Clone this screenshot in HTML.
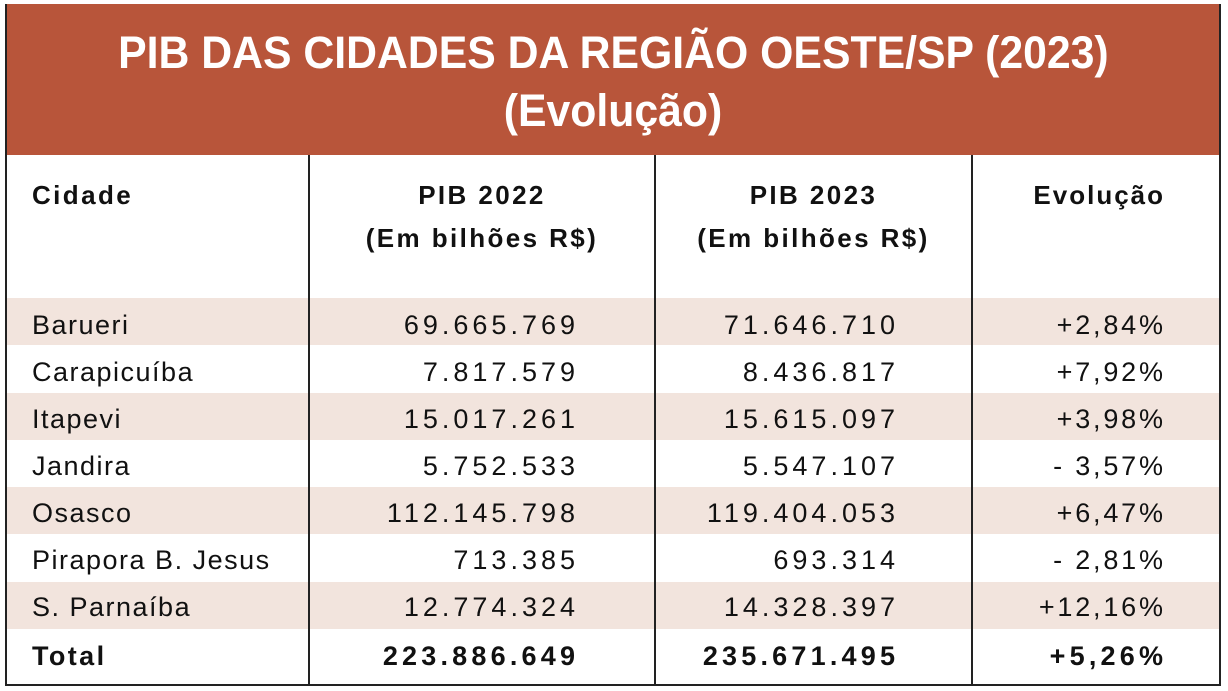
<!DOCTYPE html>
<html><head><meta charset="utf-8"><style>
body{margin:0;width:1228px;height:691px;background:#fff;position:relative;overflow:hidden;font-family:"Liberation Sans",sans-serif;color:#111}
.a{position:absolute}
.t{position:absolute;left:6px;top:4px;width:1214px;height:151px;background:#B8553A;color:#fff;font-weight:bold;font-size:45px;text-align:center;line-height:58px;padding-top:20px;box-sizing:border-box}
.t span{display:inline-block;transform:scaleX(0.95)}
.r{position:absolute;height:30px;line-height:30px;font-size:27px;white-space:nowrap;letter-spacing:1.5px}
.n{letter-spacing:4px;margin-right:-4px}
.p{letter-spacing:2.8px;margin-right:-2.8px}
.h{font-weight:bold;font-size:26px;letter-spacing:2.4px}
.hn{font-weight:bold;font-size:27px;letter-spacing:4.2px;margin-right:-4.2px}
.s{position:absolute;left:7px;width:1212px;height:47px;background:#F2E4DD}
.v{position:absolute;top:155px;width:2px;height:530px;background:#222}
</style></head><body>
<div class="t"><span>PIB DAS CIDADES DA REGIÃO OESTE/SP (2023)</span><br><span>(Evolução)</span></div>
<div class="s" style="top:298px"></div>
<div class="s" style="top:393px"></div>
<div class="s" style="top:487px"></div>
<div class="s" style="top:582px"></div>
<div class="a" style="left:5px;top:4px;width:2px;height:682px;background:#222"></div>
<div class="a" style="left:1219px;top:4px;width:2px;height:682px;background:#222"></div>
<div class="a" style="left:5px;top:684px;width:1216px;height:2px;background:#222"></div>
<div class="v" style="left:308px"></div>
<div class="v" style="left:654px"></div>
<div class="v" style="left:971px"></div>

<div class="r h" style="left:32px;top:180px">Cidade</div>
<div class="r h" style="left:309px;width:346px;text-align:center;top:180px">PIB 2022</div>
<div class="r h" style="left:309px;width:346px;text-align:center;top:223px">(Em bilhões R$)</div>
<div class="r h" style="left:655px;width:317px;text-align:center;top:180px">PIB 2023</div>
<div class="r h" style="left:655px;width:317px;text-align:center;top:223px">(Em bilhões R$)</div>
<div class="r h" style="right:65px;top:180px;letter-spacing:2px;margin-right:-2px">Evolução</div>

<div class="r" style="left:32px;top:310px">Barueri</div>
<div class="r n" style="right:653px;top:310px">69.665.769</div>
<div class="r n" style="right:333px;top:310px">71.646.710</div>
<div class="r p" style="right:65px;top:310px">+2,84%</div>

<div class="r" style="left:32px;top:357px">Carapicuíba</div>
<div class="r n" style="right:653px;top:357px">7.817.579</div>
<div class="r n" style="right:333px;top:357px">8.436.817</div>
<div class="r p" style="right:65px;top:357px">+7,92%</div>

<div class="r" style="left:32px;top:404px">Itapevi</div>
<div class="r n" style="right:653px;top:404px">15.017.261</div>
<div class="r n" style="right:333px;top:404px">15.615.097</div>
<div class="r p" style="right:65px;top:404px">+3,98%</div>

<div class="r" style="left:32px;top:451px">Jandira</div>
<div class="r n" style="right:653px;top:451px">5.752.533</div>
<div class="r n" style="right:333px;top:451px">5.547.107</div>
<div class="r p" style="right:65px;top:451px">- 3,57%</div>

<div class="r" style="left:32px;top:498px">Osasco</div>
<div class="r n" style="right:653px;top:498px">112.145.798</div>
<div class="r n" style="right:333px;top:498px">119.404.053</div>
<div class="r p" style="right:65px;top:498px">+6,47%</div>

<div class="r" style="left:32px;top:545px">Pirapora B. Jesus</div>
<div class="r n" style="right:653px;top:545px">713.385</div>
<div class="r n" style="right:333px;top:545px">693.314</div>
<div class="r p" style="right:65px;top:545px">- 2,81%</div>

<div class="r" style="left:32px;top:592px">S. Parnaíba</div>
<div class="r n" style="right:653px;top:592px">12.774.324</div>
<div class="r n" style="right:333px;top:592px">14.328.397</div>
<div class="r p" style="right:65px;top:592px">+12,16%</div>

<div class="r h" style="left:32px;top:641px;font-size:27px">Total</div>
<div class="r hn" style="right:653px;top:641px">223.886.649</div>
<div class="r hn" style="right:333px;top:641px">235.671.495</div>
<div class="r hn" style="right:65px;top:641px">+5,26%</div>
</body></html>
